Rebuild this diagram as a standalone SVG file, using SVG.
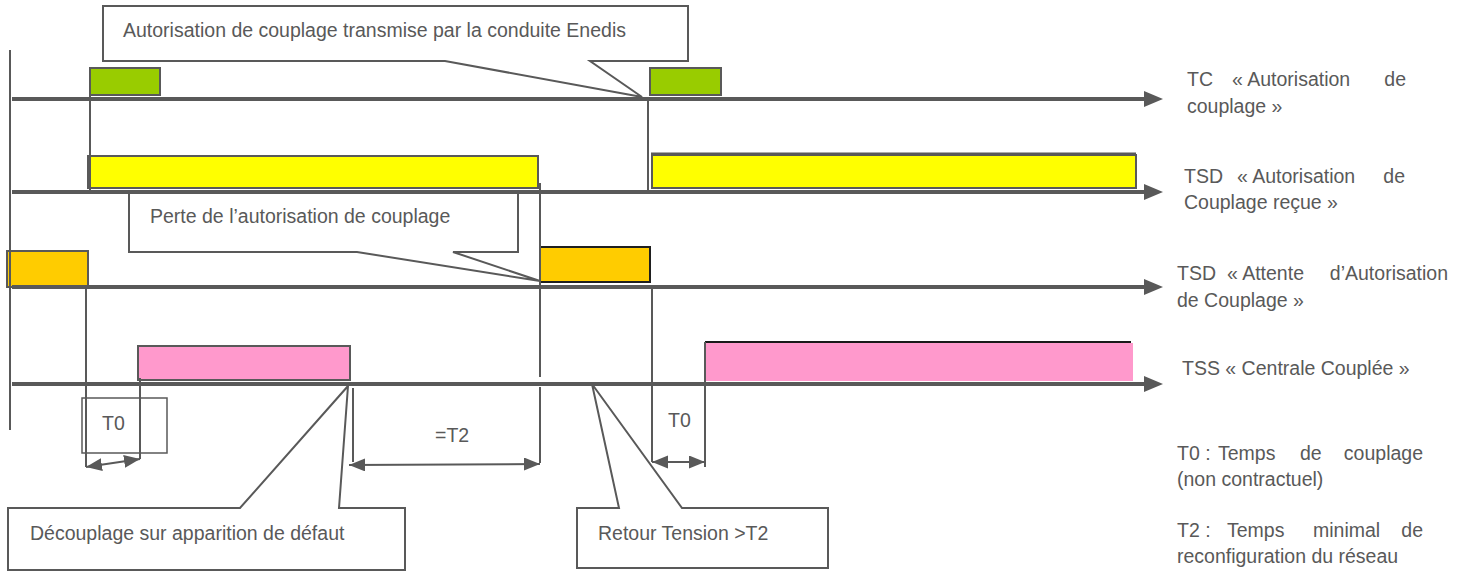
<svg xmlns="http://www.w3.org/2000/svg" width="1464" height="571" viewBox="0 0 1464 571">
<style>
text{font-family:"Liberation Sans",Arial,sans-serif;font-size:19.5px;fill:#595959}
.axis{stroke:#595959;stroke-width:4;fill:none}
.thin{stroke:#595959;stroke-width:2;fill:none}
.call{fill:#ffffff;stroke:#595959;stroke-width:2;stroke-linejoin:miter}
.dim{stroke:#595959;stroke-width:2;fill:none;marker-start:url(#sa);marker-end:url(#sa)}
.box{stroke:#595959;stroke-width:2}
</style>
<defs>
<marker id="big" markerUnits="userSpaceOnUse" markerWidth="20" markerHeight="18" refX="0" refY="8" orient="auto"><path d="M0,0 L19,8 L0,16 z" fill="#595959"/></marker>
<marker id="sa" markerUnits="userSpaceOnUse" markerWidth="17" markerHeight="14" refX="16" refY="6.5" orient="auto-start-reverse"><path d="M0,0 L16,6.5 L0,13 z" fill="#595959"/></marker>
</defs>
<rect width="1464" height="571" fill="#ffffff"/>

<g id="callout-autorisation">
<polygon class="call" points="103,6 688,6 688,61 590,61 642,97 445,61 103,61"/>
<text x="123" y="37">Autorisation de couplage transmise par la conduite Enedis</text>
</g>
<g id="callout-perte">
<polygon class="call" points="129,192 518,192 518,252 453,252 540,281 357,252 129,252"/>
<text x="150" y="223">Perte de l’autorisation de couplage</text>
</g>
<g id="callout-decouplage">
<polygon class="call" points="8,508 240,508 348,386 339,508 405,508 405,570 8,570"/>
<text x="30" y="540">Découplage sur apparition de défaut</text>
</g>
<g id="callout-retour">
<polygon class="call" points="577,508 619,508 592,384 682,508 828,508 828,568 577,568"/>
<text x="598" y="540">Retour Tension &gt;T2</text>
</g>

<g id="tc-pulse-1"><rect class="box" x="90" y="68" width="70" height="27" fill="#99cc00"/></g>
<g id="tc-pulse-2"><rect class="box" x="650" y="68" width="71" height="27" fill="#99cc00"/></g>
<g id="tsd-recue-1"><rect class="box" x="88" y="156" width="450" height="32" fill="#ffff00"/></g>
<g id="tsd-recue-2"><rect class="box" x="652" y="155" width="484" height="33" fill="#ffff00"/><line x1="651" y1="154" x2="1136" y2="154" stroke="#595959" stroke-width="3"/></g>
<g id="tsd-attente-1"><rect class="box" x="7" y="251" width="81" height="36" fill="#ffcc00"/></g>
<g id="tsd-attente-2"><rect x="540" y="247" width="110" height="35" fill="#ffcc00" stroke="#1f1f1f" stroke-width="2"/></g>
<g id="tss-1"><rect class="box" x="138" y="346" width="212" height="34" fill="#ff99cc"/></g>
<g id="tss-2"><rect x="706" y="343" width="427" height="38" fill="#ff99cc"/><line x1="705" y1="342" x2="1131" y2="342" stroke="#1a1a1a" stroke-width="2"/></g>

<g id="t0-box-1"><rect x="82" y="398" width="85" height="55" fill="none" stroke="#595959" stroke-width="1.5"/><text x="102" y="430">T0</text></g>
<g id="t2-label"><text x="435" y="442">=T2</text></g>
<g id="t0-label-2"><text x="668" y="427">T0</text></g>

<g id="connectors">
<line class="thin" x1="10" y1="50" x2="10" y2="430"/>
<line class="thin" x1="90" y1="95" x2="90" y2="192"/>
<line class="thin" x1="648" y1="99" x2="648" y2="190"/>
<line class="thin" x1="540" y1="183" x2="540" y2="377"/>
<line class="thin" x1="540" y1="387" x2="540" y2="463"/>
<line class="thin" x1="86" y1="287" x2="86" y2="467"/>
<line class="thin" x1="652" y1="287" x2="652" y2="462"/>
<line class="thin" x1="140" y1="378" x2="140" y2="459"/>
<line class="thin" x1="353" y1="388" x2="353" y2="462"/>
<line class="thin" x1="705" y1="342" x2="705" y2="467"/>
<line class="axis" x1="12" y1="99" x2="1144" y2="99" marker-end="url(#big)"/>
<line class="axis" x1="12" y1="192" x2="1144" y2="192" marker-end="url(#big)"/>
<line class="axis" x1="12" y1="287" x2="1144" y2="287" marker-end="url(#big)"/>
<line class="axis" x1="12" y1="384" x2="1144" y2="384" marker-end="url(#big)"/>
<line class="dim" x1="86" y1="467" x2="140" y2="459"/>
<line class="dim" x1="349" y1="465" x2="540" y2="464"/>
<line class="dim" x1="652" y1="462" x2="705" y2="462"/>
</g>

<g id="label-tc">
<text x="1187" y="86">TC</text><text x="1232" y="86">« Autorisation</text><text x="1406" y="86" text-anchor="end">de</text>
<text x="1187" y="113">couplage »</text>
</g>
<g id="label-tsd-recue">
<text x="1184" y="183">TSD</text><text x="1237" y="183">« Autorisation</text><text x="1405" y="183" text-anchor="end">de</text>
<text x="1184" y="209">Couplage reçue »</text>
</g>
<g id="label-tsd-attente">
<text x="1177" y="280">TSD</text><text x="1227" y="280">« Attente</text><text x="1448" y="280" text-anchor="end">d’Autorisation</text>
<text x="1177" y="307">de Couplage »</text>
</g>
<g id="label-tss">
<text x="1182" y="375">TSS « Centrale Couplée »</text>
</g>
<g id="legend-t0">
<text x="1177" y="460">T0 :</text><text x="1218" y="460">Temps</text><text x="1300" y="460">de</text><text x="1423" y="460" text-anchor="end">couplage</text>
<text x="1177" y="486">(non contractuel)</text>
</g>
<g id="legend-t2">
<text x="1177" y="537">T2 :</text><text x="1227" y="537">Temps</text><text x="1313" y="537">minimal</text><text x="1423" y="537" text-anchor="end">de</text>
<text x="1177" y="563">reconfiguration du réseau</text>
</g>
</svg>
